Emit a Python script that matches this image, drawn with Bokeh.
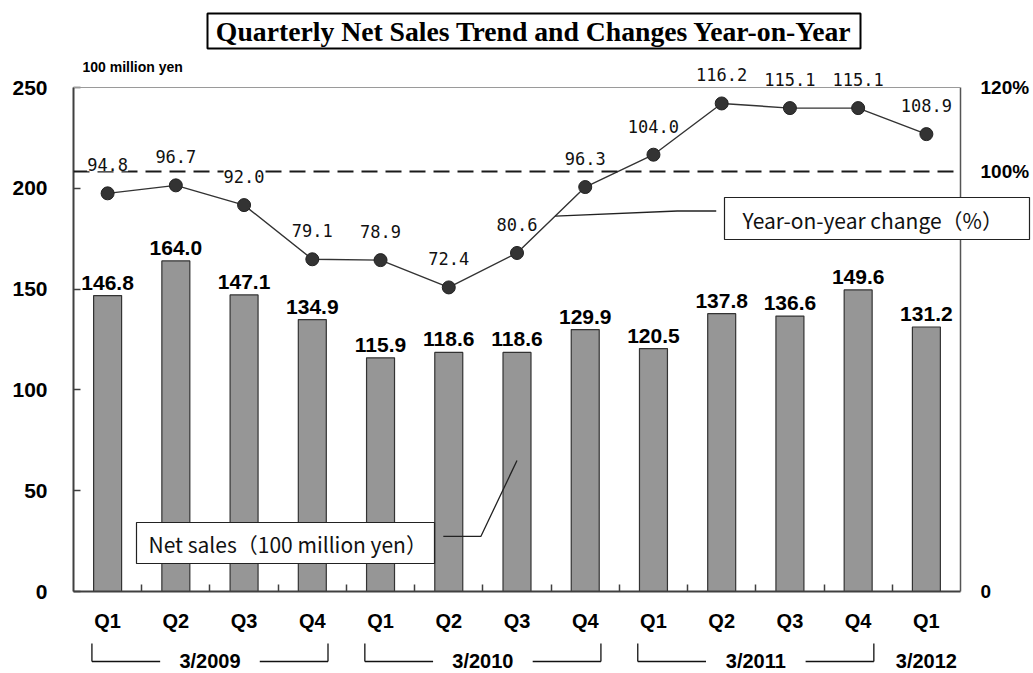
from bokeh.plotting import figure
from bokeh.models import (Range1d, LinearAxis, FixedTicker, Span, LabelSet,
                          ColumnDataSource, GridBox)
from bokeh.core.properties import value
from bokeh.embed import file_html
from bokeh.resources import INLINE

# ---------------- data ----------------
quarters = ["Q1", "Q2", "Q3", "Q4", "Q1", "Q2", "Q3", "Q4", "Q1", "Q2", "Q3", "Q4", "Q1"]
net_sales = [146.8, 164.0, 147.1, 134.9, 115.9, 118.6, 118.6, 129.9, 120.5, 137.8, 136.6, 149.6, 131.2]
yoy_change = [94.8, 96.7, 92.0, 79.1, 78.9, 72.4, 80.6, 96.3, 104.0, 116.2, 115.1, 115.1, 108.9]
fiscal_years = ["3/2009", "3/2010", "3/2011", "3/2012"]
quarters_per_year = [4, 4, 4, 1]
left_ticks = [0, 50, 100, 150, 200, 250]
right_ticks = [0, 100, 120]
right_tick_labels = ["0", "100%", "120%"]
title_text = "Quarterly Net Sales Trend and Changes Year-on-Year"
unit_text = "100 million yen"
sales_callout = "Net sales（100 million yen）"
yoy_callout = "Year-on-year change（%）"

LEFT_MAX = 250
PCT_MAX = 120

x = list(range(1, len(quarters) + 1))
src = ColumnDataSource(dict(
    x=x, sales=net_sales, yoy=yoy_change,
    sales_txt=[f"{v:.1f}" for v in net_sales],
    yoy_txt=[f"{v:.1f}" for v in yoy_change],
))

SANS = "Liberation Sans"
CANVAS_W = 1032
LEFT_B = 73
FRAME_W = 887
RIGHT_B = CANVAS_W - LEFT_B - FRAME_W
PLOT_H = 504          # pixel height of 0..250
TOP_PAD = 87          # pixels above the 250 line kept inside the frame
FRAME_H = PLOT_H + TOP_PAD
BOTTOM = 46

# ---------------- main chart ----------------
p = figure(frame_width=FRAME_W, frame_height=FRAME_H,
           min_border_left=LEFT_B, min_border_right=RIGHT_B,
           min_border_top=0, min_border_bottom=BOTTOM,
           x_range=Range1d(0.5, len(quarters) + 0.5),
           y_range=Range1d(0, LEFT_MAX * FRAME_H / PLOT_H),
           output_backend="svg", toolbar_location=None, tools="")
p.extra_y_ranges = {"pct": Range1d(0, PCT_MAX * FRAME_H / PLOT_H)}
p.xgrid.visible = False
p.ygrid.visible = False
p.outline_line_color = None
p.background_fill_color = "white"
p.border_fill_color = "white"

# x axis
xa = p.xaxis[0]
xa.ticker = FixedTicker(ticks=x, minor_ticks=[i + 0.5 for i in x[:-1]])
xa.major_label_overrides = {i: q for i, q in zip(x, quarters)}
xa.major_tick_line_color = None
xa.major_tick_out = 0
xa.major_tick_in = 0
xa.minor_tick_in = 7
xa.minor_tick_out = 0
xa.minor_tick_line_color = "#404040"
xa.minor_tick_line_width = 1.5
xa.axis_line_color = "#404040"
xa.axis_line_width = 2
xa.major_label_text_font = SANS
xa.major_label_text_font_style = "bold"
xa.major_label_text_font_size = "20px"
xa.major_label_text_color = "black"
xa.major_label_standoff = 18

# left axis
ya = p.yaxis[0]
ya.ticker = FixedTicker(ticks=left_ticks)
ya.bounds = (0, LEFT_MAX)
ya.major_tick_in = 7
ya.major_tick_out = 0
ya.major_tick_line_color = "#404040"
ya.major_tick_line_width = 1.5
ya.minor_tick_line_color = None
ya.axis_line_color = "#404040"
ya.axis_line_width = 2
ya.major_label_text_font = SANS
ya.major_label_text_font_style = "bold"
ya.major_label_text_font_size = "21px"
ya.major_label_text_color = "black"
ya.major_label_standoff = 26

# right axis
ra = LinearAxis(y_range_name="pct", ticker=FixedTicker(ticks=right_ticks), bounds=(0, PCT_MAX),
                major_label_overrides={t: l for t, l in zip(right_ticks, right_tick_labels)})
ra.major_tick_line_color = None
ra.major_tick_out = 0
ra.major_tick_in = 0
ra.minor_tick_line_color = None
ra.axis_line_color = "#555555"
ra.axis_line_width = 1.5
ra.major_label_text_font = SANS
ra.major_label_text_font_style = "bold"
ra.major_label_text_font_size = "19px"
ra.major_label_text_color = "black"
ra.major_label_standoff = 20
p.add_layout(ra, "right")

# top border of the plot area
p.add_layout(Span(location=LEFT_MAX, dimension="width", line_color="#9a9a9a", line_width=1))

# bars
p.vbar(x="x", top="sales", width=0.41, source=src, fill_color="#969696",
       line_color="#333333", line_width=1.2)

# 100% reference line
p.add_layout(Span(location=100, dimension="width", y_range_name="pct",
                  line_color="#1a1a1a", line_width=2, line_dash="16 8"))

# yoy line
p.line(x="x", y="yoy", source=src, y_range_name="pct", line_color="#333333", line_width=1.4)
p.scatter(x="x", y="yoy", source=src, y_range_name="pct", size=13,
          fill_color="#333333", line_color="#222222")

# bar value labels
p.add_layout(LabelSet(x="x", y="sales", text="sales_txt", source=src,
                      text_align="center", text_baseline="alphabetic", y_offset=6,
                      text_font=value(SANS), text_font_style="bold", text_font_size="21px",
                      text_color="black"))

# yoy value labels
p.add_layout(LabelSet(x="x", y="yoy", text="yoy_txt", source=src, y_range_name="pct",
                      text_align="center", text_baseline="alphabetic", y_offset=22,
                      text_font=value("DejaVu Sans Mono"), text_font_size="17px",
                      text_color="#111111", background_fill_color="white"))

# callout leader lines
p.line(x=[7, 6.47, 5.92], y=[65, 27.3, 27.3], line_color="#222222", line_width=1.3)
t = 0.56
ax = x[6] + t
ay = yoy_change[6] + t * (yoy_change[7] - yoy_change[6])
p.line(x=[ax, 9.35, 9.92], y=[ay, ay + 1.2, ay + 1.2], y_range_name="pct",
       line_color="#222222", line_width=1.3)

# ---------------- overlay (pixel space) for title / unit / callout boxes ----------------
OV_W = CANVAS_W - LEFT_B
q = figure(frame_width=OV_W, frame_height=FRAME_H,
           min_border_left=LEFT_B, min_border_right=0, min_border_top=0, min_border_bottom=BOTTOM,
           x_range=Range1d(LEFT_B, CANVAS_W), y_range=Range1d(FRAME_H, 0),
           x_axis_location=None, y_axis_location=None,
           output_backend="svg", toolbar_location=None, tools="")
q.xgrid.visible = False
q.ygrid.visible = False
q.outline_line_color = None
q.background_fill_color = None
q.border_fill_color = None

# title box
q.quad(left=[207], right=[860], top=[13], bottom=[48], fill_color="white",
       line_color="black", line_width=2)
q.text(x=[533.5], y=[31], text=[title_text], text_align="center", text_baseline="middle",
       text_font=value("Liberation Serif"), text_font_style="bold", text_font_size="27.7px",
       text_color="black")
# unit
q.text(x=[82], y=[66], text=[unit_text], text_align="left", text_baseline="middle",
       text_font=value(SANS), text_font_style="bold", text_font_size="14px", text_color="black")
# callout boxes
q.quad(left=[136, 724], right=[434, 1029], top=[522, 197], bottom=[563, 239],
       fill_color="white", line_color="#222222", line_width=1.2)
q.text(x=[148, 742], y=[543, 219], text=[sales_callout, yoy_callout], text_align="left",
       text_baseline="middle", text_font=value("Noto Sans CJK JP"), text_font_size="21px",
       text_color="#111111")

# ---------------- fiscal-year brackets ----------------
BR_H = 35
p2 = figure(frame_width=FRAME_W, frame_height=BR_H,
            min_border_left=LEFT_B, min_border_right=RIGHT_B,
            min_border_top=0, min_border_bottom=0,
            x_range=p.x_range, y_range=Range1d(0, BR_H),
            x_axis_location=None, y_axis_location=None,
            output_backend="svg", toolbar_location=None, tools="")
p2.xgrid.visible = False
p2.ygrid.visible = False
p2.outline_line_color = None

half_bar = 0.23
gap = 0.73
top_y, base_y = 29, 11
start = 1
seg_x0, seg_x1, seg_y0, seg_y1 = [], [], [], []
lab_x = []
for name, n in zip(fiscal_years, quarters_per_year):
    first, last = start, start + n - 1
    mid = (first + last) / 2
    lab_x.append(mid)
    if n > 1:
        l, r = first - half_bar, last + half_bar
        seg_x0 += [l, r]; seg_x1 += [l, r]; seg_y0 += [top_y, top_y]; seg_y1 += [base_y, base_y]
        seg_x0 += [l, mid + gap]; seg_x1 += [mid - gap, r]; seg_y0 += [base_y, base_y]; seg_y1 += [base_y, base_y]
    start += n

p2.segment(x0=seg_x0, y0=seg_y0, x1=seg_x1, y1=seg_y1, line_color="#111111", line_width=1.3)
p2.text(x=lab_x, y=[base_y + 1] * len(lab_x), text=fiscal_years, text_align="center",
        text_baseline="middle", text_font=value(SANS), text_font_style="bold",
        text_font_size="20px", text_color="black")

layout = GridBox(children=[(p, 0, 0), (q, 0, 0), (p2, 1, 0)])
open("out.html", "w").write(file_html(layout, INLINE))
